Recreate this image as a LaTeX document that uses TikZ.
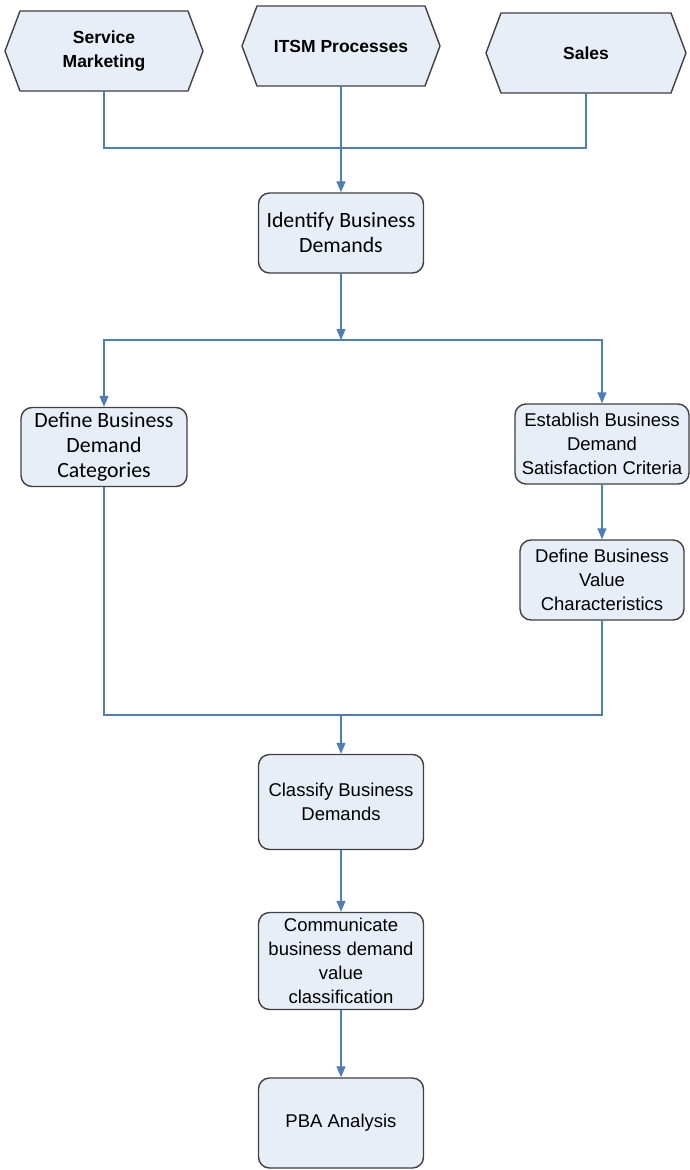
\documentclass[tikz,border=0pt]{standalone}
\usepackage{fontspec}
\setmainfont{Liberation Sans}
\newfontfamily\calibrifont{Carlito}
\usetikzlibrary{arrows.meta,calc}
\definecolor{boxfill}{HTML}{E8EEF7}
\definecolor{boxline}{HTML}{404040}
\definecolor{flowline}{HTML}{4F7DB8}

% hexagonal source box: name, centre x, centre y, half width of the flat top, text
\newcommand\hexbox[5]{%
  \filldraw[hexshape] (#2-#4,#3-40) -- (#2+#4,#3-40) -- (#2+#4+15,#3)
    -- (#2+#4,#3+40) -- (#2-#4,#3+40) -- (#2-#4-15,#3) -- cycle;
  \node[hexlabel, minimum width=2*#4] (#1) at (#2,#3) {#5};}

\begin{document}
\begin{tikzpicture}[x=1pt,y=-1pt,
  hexshape/.style={draw=boxline, line width=1.4pt, fill=boxfill, line join=round},
  hexlabel/.style={inner sep=0pt, minimum height=80pt, align=center,
    font=\fontsize{17.5}{24.5}\selectfont\bfseries},
  task/.style={draw=boxline, line width=1.4pt, fill=boxfill, rounded corners=11pt,
    align=center, inner sep=2pt, font=\fontsize{18.5}{24}\selectfont},
  ctask/.style={task, font=\calibrifont\fontsize{21.8}{25}\selectfont},
  flow/.style={draw=flowline, line width=1.2pt},
  flowarrow/.style={flow, -{Triangle[length=11pt,width=9pt]}}
]
\useasboundingbox (0,0) rectangle (690,1170);

% sources
\hexbox{sm}{104}{51}{84}{Service\\Marketing}
\hexbox{itsm}{341}{46}{84}{ITSM Processes}
\hexbox{sales}{586}{53}{85}{Sales}

% process steps
\node[ctask, minimum width=165pt, minimum height=80pt] (idb) at (341,233) {Identify Business\\Demands};
\node[ctask, minimum width=166pt, minimum height=79pt] (dbc) at (104,447) {Define Business\\Demand\\Categories};
\node[task, minimum width=174pt, minimum height=80pt] (ebd) at (602,444) {Establish Business\\Demand\\Satisfaction Criteria};
\node[task, minimum width=164pt, minimum height=80pt] (dbv) at (602,580) {Define Business\\Value\\Characteristics};
\node[task, minimum width=165pt, minimum height=95pt] (cbd) at (341,802) {Classify Business\\Demands};
\node[task, minimum width=165pt, minimum height=97pt] (com) at (341,961) {Communicate\\business demand\\value\\classification};
\node[task, minimum width=165pt, minimum height=90pt] (pba) at (341,1123) {PBA Analysis};

% junction points
\coordinate (j1) at (341,148);
\coordinate (j2) at (341,340);
\coordinate (j3) at (341,715);

% connectors
\draw[flow] (sm.south) |- (j1) -| (sales.south);
\draw[flowarrow] (itsm.south) -- (idb.north);
\draw[flowarrow] (idb.south) -- (j2);
\draw[flowarrow] (j2) -| (dbc.north);
\draw[flowarrow] (j2) -| (ebd.north);
\draw[flowarrow] (ebd.south) -- (dbv.north);
\draw[flow] (dbc.south) |- (j3) -| (dbv.south);
\draw[flowarrow] (j3) -- (cbd.north);
\draw[flowarrow] (cbd.south) -- (com.north);
\draw[flowarrow] (com.south) -- (pba.north);
\end{tikzpicture}
\end{document}
